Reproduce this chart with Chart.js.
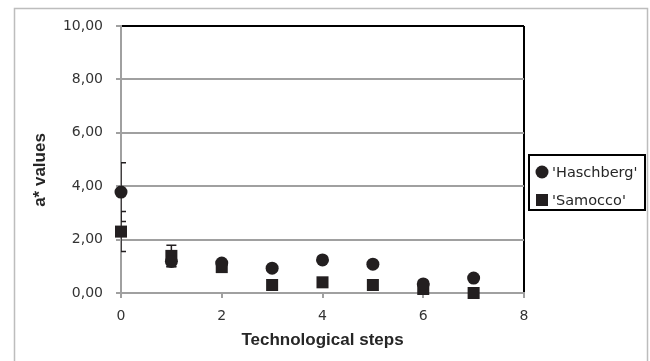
<!DOCTYPE html>
<html>
<head>
  <title>a* values</title>
  <script src="https://cdn.jsdelivr.net/npm/chart.js"></script>
  <style>
    body { margin: 0; background: #fff; }
    #wrap { width: 650px; height: 361px; }
  </style>
</head>
<body>
  <div id="wrap"><canvas id="chart"></canvas></div>
  <script>
    const steps = [0, 1, 2, 3, 4, 5, 6, 7];
    const haschberg = [3.78, 1.18, 1.12, 0.93, 1.24, 1.08, 0.34, 0.56];
    const samocco = [2.30, 1.39, 0.97, 0.30, 0.40, 0.30, 0.15, 0.00];
    const haschbergErr = [1.10, 0.20, 0, 0, 0, 0, 0, 0];
    const samoccoErr = [0.75, 0.40, 0, 0, 0, 0, 0, 0];
    const seriesLabels = ["'Haschberg'", "'Samocco'"];

    const ink = '#231f20';
    const gridGray = '#a0a0a0';

    const toPoints = ys => steps.map((x, i) => ({ x: x, y: ys[i] }));

    // error bars, clipped to the plot area like the original
    const errorBars = {
      id: 'errorBars',
      beforeDatasetsDraw(chart) {
        const { ctx, chartArea, scales } = chart;
        const errs = [haschbergErr, samoccoErr];
        ctx.save();
        ctx.beginPath();
        ctx.rect(chartArea.left, chartArea.top, chartArea.width, chartArea.height);
        ctx.clip();
        ctx.strokeStyle = ink;
        ctx.lineWidth = 1.5;
        chart.data.datasets.forEach((ds, d) => {
          ds.data.forEach((p, i) => {
            const e = errs[d][i];
            if (!e) return;
            const x = scales.x.getPixelForValue(p.x);
            const y1 = scales.y.getPixelForValue(p.y + e);
            const y2 = scales.y.getPixelForValue(p.y - e);
            ctx.beginPath();
            ctx.moveTo(x, y1); ctx.lineTo(x, y2);
            ctx.moveTo(x - 5, y1); ctx.lineTo(x + 5, y1);
            ctx.moveTo(x - 5, y2); ctx.lineTo(x + 5, y2);
            ctx.stroke();
          });
        });
        ctx.restore();
      }
    };

    // outer frame, y title and boxed legend
    const decorations = {
      id: 'decorations',
      beforeDraw(chart) {
        const ctx = chart.ctx;
        ctx.save();
        ctx.fillStyle = '#fff';
        ctx.fillRect(0, 0, chart.width, chart.height);
        ctx.strokeStyle = '#bdbdbd';
        ctx.lineWidth = 1.5;
        ctx.strokeRect(14.5, 8.5, 633, 400);
        ctx.restore();
      },
      afterDraw(chart) {
        const ctx = chart.ctx;
        ctx.save();
        ctx.fillStyle = '#262626';
        ctx.font = 'bold 17px "Liberation Sans"';
        ctx.textAlign = 'center';
        ctx.textBaseline = 'middle';
        ctx.translate(40, 170);
        ctx.rotate(-Math.PI / 2);
        ctx.fillText('a* values', 0, 0);
        ctx.restore();

        ctx.save();
        ctx.strokeStyle = '#000';
        ctx.lineWidth = 2;
        ctx.strokeRect(529, 155, 116, 55);
        ctx.font = '14.5px "DejaVu Sans"';
        ctx.textBaseline = 'middle';
        ctx.fillStyle = ink;
        const rows = [172, 200];
        chart.data.datasets.forEach((ds, i) => {
          const y = rows[i];
          if (ds.pointStyle === 'circle') {
            ctx.beginPath();
            ctx.arc(542, y, 6.5, 0, Math.PI * 2);
            ctx.fill();
          } else {
            ctx.fillRect(536, y - 6, 12, 12);
          }
          ctx.fillStyle = '#262626';
          ctx.fillText(ds.label, 552, y + 1);
          ctx.fillStyle = ink;
        });
        ctx.restore();
      }
    };

    const ctx = document.getElementById('chart').getContext('2d');
    const chart = new Chart(ctx, {
      type: 'scatter',
      data: {
        datasets: [
          { label: seriesLabels[0], data: toPoints(haschberg), pointStyle: 'circle', pointRadius: 6.5,
            backgroundColor: ink, borderColor: ink, borderWidth: 0, clip: false },
          { label: seriesLabels[1], data: toPoints(samocco), pointStyle: 'rect', pointRadius: 8.5,
            backgroundColor: ink, borderColor: ink, borderWidth: 0, clip: false }
        ]
      },
      options: {
        responsive: true,
        maintainAspectRatio: false,
        animation: false,
        layout: { padding: { left: 0, top: 26, right: 126, bottom: 0 } },
        plugins: {
          legend: { display: false },
          tooltip: { enabled: false }
        },
        scales: {
          x: {
            type: 'linear',
            min: 0,
            max: 8,
            afterFit: s => { s.height = 68; },
            ticks: { stepSize: 2, color: '#333', padding: 10, font: { family: 'DejaVu Sans', size: 14 } },
            grid: {
              lineWidth: 2,
              tickLength: 5,
              tickColor: gridGray,
              color: c => (c.tick && c.tick.value === 8 ? '#000' : 'rgba(0,0,0,0)')
            },
            border: { color: gridGray, width: 2 },
            title: {
              display: true,
              text: 'Technological steps',
              color: '#262626',
              font: { family: 'Liberation Sans', size: 17, weight: 'bold' },
              padding: { top: 0, bottom: 10 }
            }
          },
          y: {
            min: 0,
            max: 10,
            afterFit: s => { s.width = 121; },
            ticks: {
              stepSize: 2,
              color: '#333',
              padding: 13,
              font: { family: 'DejaVu Sans', size: 14 },
              callback: v => v.toFixed(2).replace('.', ',')
            },
            grid: {
              lineWidth: 2,
              tickLength: 5,
              tickColor: gridGray,
              color: c => (c.tick && c.tick.value === 10 ? '#000' : gridGray)
            },
            border: { color: gridGray, width: 2 }
          }
        }
      },
      plugins: [decorations, errorBars]
    });
  </script>
</body>
</html>
